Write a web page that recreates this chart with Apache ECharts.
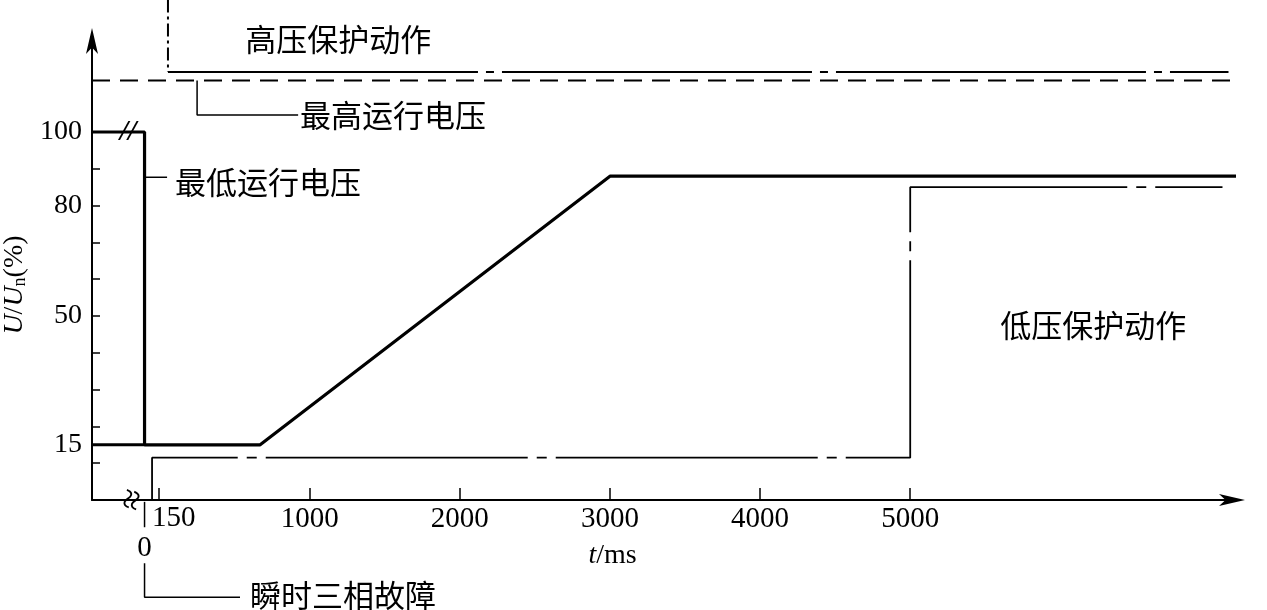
<!DOCTYPE html>
<html>
<head>
<meta charset="utf-8">
<script src="https://cdn.jsdelivr.net/npm/echarts@6/dist/echarts.min.js"></script>
<style>
html, body { margin: 0; background: #fff; }
#chart { width: 1267px; height: 610px; }
</style>
</head>
<body>
<div id="chart"></div>
<script>
// t 轴在 1000ms 以前是示意画法（压缩过），这里的 t 值按图上位置读出
const curveT = [-450, -100, -100, 670, 3000, 7180];
const curveU = [100, 100, 15, 15, 88, 88];
const preFaultT = [-450, -100];
const preFaultU = [15, 15];
const lowTripT = [-50, -50, 5000, 5000, 7080];
const lowTripU = [0, 11.5, 11.5, 85, 85];
const highTripT = [56, 56, 7120];
const highTripU = [136, 116.3, 116.3];
const maxRunT = [-450, 7400];
const maxRunU = [114, 114];

const xTicks = [-4, 1000, 2000, 3000, 4000, 5000];
const xLabels = [1000, 2000, 3000, 4000, 5000];
const yTicks = [10, 20, 30, 40, 50, 60, 70, 80, 90, 100];
const yLabels = [15, 50, 80, 100];

const serif = '"Liberation Serif", "DejaVu Serif", serif';
const cjk = '"Noto Sans CJK SC", sans-serif';

function pts(t, u) {
    return t.map((x, i) => [x, u[i]]);
}

function line(data, width, type, offset) {
    return {
        type: 'line',
        data: data,
        symbol: 'none',
        clip: false,
        silent: true,
        animation: false,
        lineStyle: { color: '#000', width: width, type: type || 'solid', dashOffset: offset || 0 }
    };
}

function note(x, y, text, opts) {
    return {
        value: [x, y],
        label: Object.assign({
            show: true,
            formatter: text,
            position: [0, 0],
            align: 'left',
            verticalAlign: 'middle',
            color: '#000',
            opacity: 1,
            textBorderWidth: 0,
            fontFamily: cjk,
            fontSize: 31
        }, opts || {})
    };
}

const option = {
    animation: false,
    grid: { left: 92, right: 34, top: 40, bottom: 110, outerBoundsMode: 'none' },
    xAxis: {
        type: 'value',
        min: -450,
        max: 7150,
        name: '{i|t}/ms',
        nameLocation: 'middle',
        nameGap: 42,
        nameTextStyle: {
            color: '#000', fontFamily: serif, fontSize: 28, padding: [0, 100, 0, 0],
            rich: { i: { fontStyle: 'italic', fontFamily: serif, fontSize: 28, color: '#000' } }
        },
        splitLine: { show: false },
        axisLine: {
            onZero: false, lineStyle: { color: '#000', width: 2 },
            symbol: ['none', 'arrow'], symbolSize: [9, 26], symbolOffset: [0, 12]
        },
        axisTick: { inside: true, length: 12, customValues: xTicks, lineStyle: { color: '#000', width: 1.5 } },
        axisLabel: { customValues: xLabels, formatter: v => String(v), margin: 5, color: '#000', fontFamily: serif, fontSize: 29 }
    },
    yAxis: {
        type: 'value',
        min: 0,
        max: 125,
        name: '{i|U}/{i|U}{s|n}(%)',
        nameLocation: 'middle',
        nameRotate: 90,
        nameGap: 58,
        nameTextStyle: {
            color: '#000', fontFamily: serif, fontSize: 28, padding: [0, 30, 0, 0],
            rich: {
                i: { fontStyle: 'italic', fontFamily: serif, fontSize: 28, color: '#000' },
                s: { fontFamily: serif, fontSize: 18, color: '#000', padding: [10, 0, 0, 0] }
            }
        },
        splitLine: { show: false },
        axisLine: {
            onZero: false, lineStyle: { color: '#000', width: 2 },
            symbol: ['none', 'arrow'], symbolSize: [9, 26], symbolOffset: [0, 12]
        },
        axisTick: { inside: true, length: 8, customValues: yTicks, lineStyle: { color: '#000', width: 1.5 } },
        axisLabel: { customValues: yLabels, formatter: v => String(v), margin: 10, color: '#000', fontFamily: serif, fontSize: 28 }
    },
    series: [
        line(pts(maxRunT, maxRunU), 2, [18, 10]),
        line(pts(highTripT.slice(0, 2), highTripU.slice(0, 2)), 2, [13, 4, 3, 4]),
        line(pts(highTripT.slice(1), highTripU.slice(1)), 2, [310, 8, 8, 8]),
        line(pts(lowTripT, lowTripU), 1.8, [262, 9, 10, 9], 134),
        line(pts(preFaultT, preFaultU), 3),
        line(pts(curveT, curveU), 3.2),
        // 引线
        line([[250, 114], [250, 104.6], [923, 104.6]], 1.5),
        line([[-100, 87.7], [50, 87.7]], 1.5),
        line([[-100, -0.5], [-100, -7.4]], 1.5),
        line([[-100, -17.2], [-100, -26.4], [536, -26.4]], 1.5),
        {
            type: 'scatter',
            symbolSize: 0,
            clip: false,
            silent: true,
            itemStyle: { opacity: 1 },
            data: [
                note(570, 125.3, '高压保护动作'),
                note(936, 104.6, '最高运行电压'),
                note(103, 86.4, '最低运行电压'),
                note(5600, 47.4, '低压保护动作'),
                note(603, -25.9, '瞬时三相故障'),
                note(-50, -4.9, '150', { fontFamily: serif, fontSize: 29 }),
                note(-100, -13.2, '0', { fontFamily: serif, fontSize: 29, align: 'center' }),
                note(-210, 100, '//', { fontFamily: serif, fontSize: 30, fontWeight: 'bold', fontStyle: 'italic', align: 'center' }),
                note(-170, 0, '≈', { fontFamily: serif, fontSize: 38, align: 'center', rotate: 75 })
            ]
        }
    ]
};

echarts.init(document.getElementById('chart')).setOption(option);
</script>
</body>
</html>
